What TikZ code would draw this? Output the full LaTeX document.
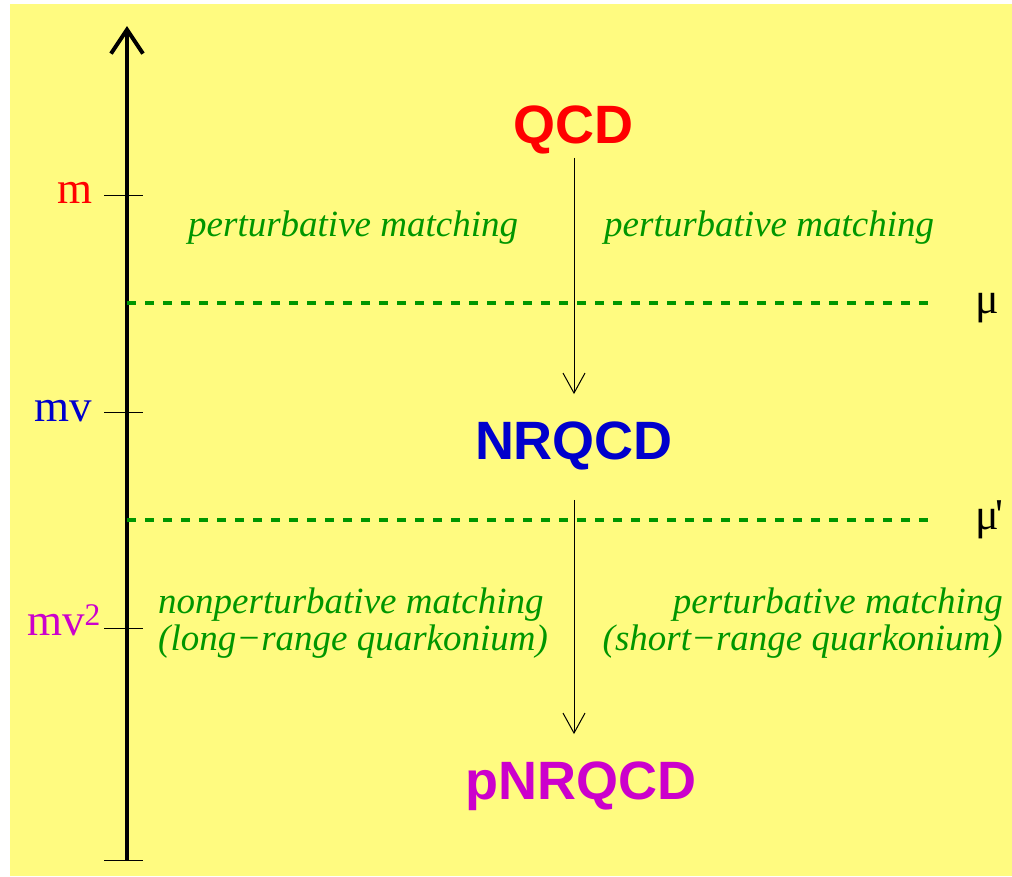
\documentclass[tikz,border=0pt]{standalone}
\usepackage{fontspec}
\setmainfont{Liberation Serif}
\newfontfamily\headfont{Liberation Sans}
\usetikzlibrary{arrows.meta}

\definecolor{padyellow}{RGB}{255,251,128}
\definecolor{matchgreen}{RGB}{0,150,0}
\definecolor{nrblue}{RGB}{0,0,204}
\definecolor{pnrmagenta}{RGB}{204,0,204}

\tikzset{
  theory/.style={font=\headfont\bfseries\fontsize{54}{60}\selectfont, inner sep=0pt, anchor=base},
  scalelab/.style={font=\fontsize{45}{50}\selectfont, inner sep=0pt, anchor=base east},
  cutlab/.style={font=\fontsize{44}{50}\selectfont, inner sep=0pt, anchor=base west},
  matching/.style={font=\itshape\fontsize{37}{37}\selectfont, text=matchgreen, inner sep=0pt},
  cutoff/.style={matchgreen, line width=4pt, dash pattern=on 9pt off 9pt},
  flow/.style={-{Straight Barb[length=20pt,width=22pt]}, line width=1pt},
}

\begin{document}
\begin{tikzpicture}[x=1pt, y=-1pt]
  \useasboundingbox (0,0) rectangle (1012,876);
  \fill[padyellow] (10,4) rectangle (1012,876);

  % energy axis with ticks
  \coordinate (bot) at (127,860);
  \coordinate (top) at (127,26);
  \draw[line width=4pt, -{Straight Barb[length=24pt,width=32pt]}] (bot) -- (top);
  \foreach \y in {195,412,628,860}
    \draw[line width=1pt] (104,\y) -- (143,\y);

  \node[scalelab, text=red] (lm) at (93,203) {m};
  \node[scalelab, text=nrblue] (lmv) at (92,421) {mv};
  \node[scalelab, text=pnrmagenta] (lmvv) at (101,635) {mv\textsuperscript{2}};

  % the three theories
  \node[theory, text=red] (qcd) at (573,143) {QCD};
  \node[theory, text=nrblue] (nrqcd) at (574,459) {NRQCD};
  \node[theory, text=pnrmagenta] (pnrqcd) at (581,799) {pNRQCD};

  \draw[flow, shorten <=4pt, shorten >=27pt] (nrqcd.north |- qcd.south) -- (nrqcd.north);
  \draw[flow, shorten <=30pt, shorten >=27pt] (nrqcd.south) -- (nrqcd.south |- pnrqcd.north);

  % matching scales mu and mu'
  \coordinate (cut1) at (127,303);
  \coordinate (cut2) at (127,520);
  \draw[cutoff] (cut1) -- ++(803,0);
  \draw[cutoff] (cut2) -- ++(803,0);
  \node[cutlab] (mu) at (975,313) {μ};
  \node[cutlab] (mup) at (975,529) {μ\kern-3pt\textquotesingle};

  % matching steps
  \node[matching, anchor=base west] (pmleft) at (188,236) {perturbative matching};
  \node[matching, anchor=base west] (pmright) at (604,236) {perturbative matching};
  \node[matching, anchor=base west, align=left] (npmlong) at (158,650)
    {nonperturbative matching\\(long−range quarkonium)};
  \node[matching, anchor=base east, align=right] (pmshort) at (1003,650)
    {perturbative matching\\(short−range quarkonium)};
\end{tikzpicture}
\end{document}
